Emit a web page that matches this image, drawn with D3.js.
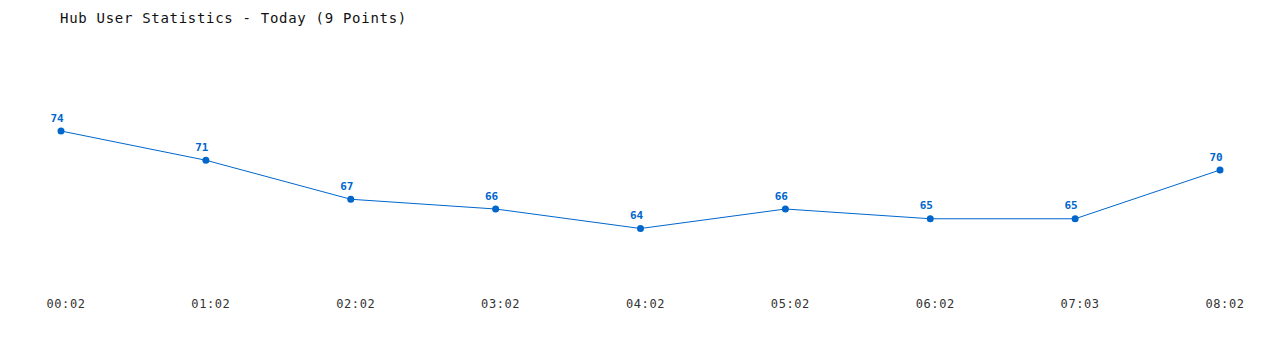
<!DOCTYPE html>
<html>
<head>
<meta charset="utf-8">
<script src="https://cdn.jsdelivr.net/npm/d3@7"></script>
<style>
  html, body { margin: 0; padding: 0; background: #fff; }
  svg { display: block; }
  text { font-family: "DejaVu Sans Mono", "Liberation Mono", monospace; }
</style>
</head>
<body>
<svg id="chart" width="1280" height="350"></svg>
<script>
const title = "Hub User Statistics - Today (9 Points)";
const times = ["00:02", "01:02", "02:02", "03:02", "04:02", "05:02", "06:02", "07:03", "08:02"];
const users = [74, 71, 67, 66, 64, 66, 65, 65, 70];

const color = "#0066cc";
const svg = d3.select("#chart");

const x = d3.scalePoint().domain(times).range([61, 1220]);
const y = d3.scaleLinear().domain([64, 74]).range([228.5, 131]);

svg.append("text")
  .attr("x", 60).attr("y", 23)
  .attr("font-size", 14)
  .attr("letter-spacing", 0.7)
  .attr("fill", "#111")
  .text(title);

const data = times.map((t, i) => ({t, v: users[i]}));

svg.append("path")
  .datum(data)
  .attr("fill", "none")
  .attr("stroke", color)
  .attr("stroke-width", 1)
  .attr("d", d3.line().x(d => x(d.t)).y(d => y(d.v)));

svg.selectAll("circle.pt").data(data).join("circle")
  .attr("class", "pt")
  .attr("cx", d => x(d.t)).attr("cy", d => y(d.v))
  .attr("r", 3.5)
  .attr("fill", color);

svg.selectAll("text.val").data(data).join("text")
  .attr("class", "val")
  .attr("x", d => x(d.t) - 4).attr("y", d => y(d.v) - 9.5)
  .attr("text-anchor", "middle")
  .attr("font-size", 11)
  .attr("font-weight", "bold")
  .attr("fill", color)
  .text(d => d.v);

const xAxis = d3.axisBottom(x).tickSize(0).tickPadding(0);
const gx = svg.append("g").call(xAxis);
gx.select(".domain").remove();
gx.selectAll(".tick text")
  .attr("x", 4.5)
  .attr("y", 308)
  .attr("dy", null)
  .attr("font-size", 12)
  .attr("letter-spacing", 0.6)
  .attr("font-family", "DejaVu Sans Mono, monospace")
  .attr("fill", "#333");
</script>
</body>
</html>
